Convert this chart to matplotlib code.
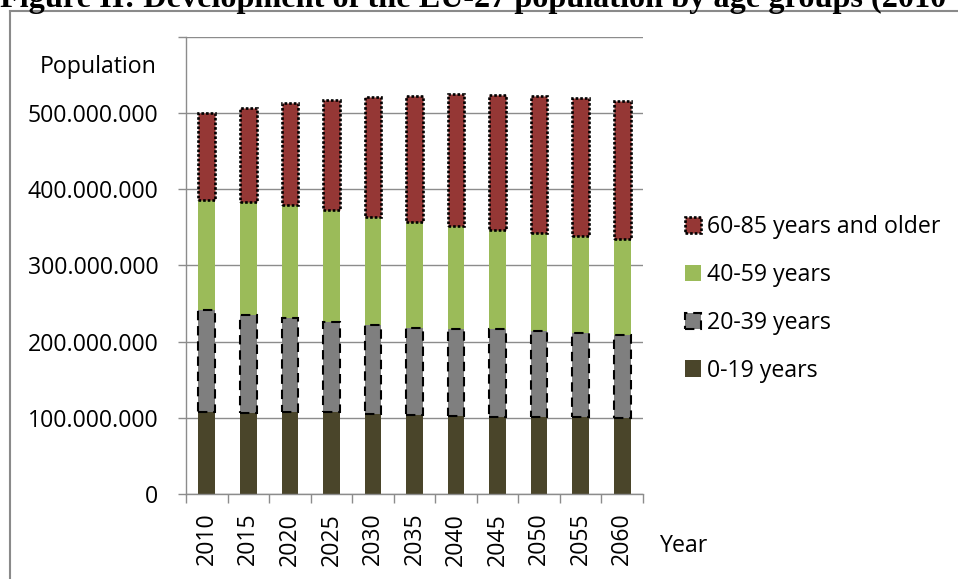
import matplotlib
matplotlib.use("Agg")
import matplotlib.pyplot as plt
from matplotlib.lines import Line2D
from matplotlib.ticker import FuncFormatter, FixedLocator
import numpy as np

# EU-27 population by age group, millions
years = ["2010", "2015", "2020", "2025", "2030", "2035", "2040", "2045", "2050", "2055", "2060"]
age_0_19 = [107.5, 106.0, 107.5, 107.0, 105.0, 103.0, 102.0, 101.0, 100.5, 100.5, 99.5]
age_20_39 = [133.3, 129.0, 123.2, 119.3, 116.1, 115.0, 115.1, 115.3, 114.0, 110.9, 109.3]
age_40_59 = [145.2, 148.3, 148.3, 146.7, 142.9, 138.3, 133.9, 129.9, 127.3, 126.5, 125.6]
age_60_plus = [113.5, 123.7, 133.5, 144.0, 156.5, 166.2, 173.5, 177.5, 180.5, 181.8, 180.9]
series_labels = ["0-19 years", "20-39 years", "40-59 years", "60-85 years and older"]
y_ticks = [0, 100e6, 200e6, 300e6, 400e6, 500e6, 600e6]

W, H = 958, 579
fig = plt.figure(figsize=(W / 100, H / 100), dpi=100)
plt.rcParams["font.family"] = ["Open Sans", "DejaVu Sans"]
FS = 16.7
GRID = "#8c8c8c"

def fx(px):
    return px / W

def fy(py):
    return 1 - py / H

# plot area
left, right, top, bottom = 186, 643, 36.7, 494
ax = fig.add_axes([fx(left), fy(bottom), fx(right - left), (bottom - top) / H])

x = np.arange(len(years))
scale = 1e6
b1 = np.array(age_0_19) * scale
b2 = np.array(age_20_39) * scale
b3 = np.array(age_40_59) * scale
b4 = np.array(age_60_plus) * scale
width = 0.4

bars1 = ax.bar(x, b1, width, color="#4a452a", zorder=2, label=series_labels[0])
bars2 = ax.bar(x, b2, width, bottom=b1, color="#7f7f7f", edgecolor="black",
               linewidth=1.5, linestyle=(0, (4.5, 2.8)), zorder=4, label=series_labels[1])
bars3 = ax.bar(x, b3, width, bottom=b1 + b2, color="#9bbb59", zorder=2, label=series_labels[2])
bars4 = ax.bar(x, b4, width, bottom=b1 + b2 + b3, color="#953735", edgecolor="black",
               linewidth=1.9, linestyle=(0, (1, 0.75)), zorder=4, label=series_labels[3])

ax.set_xlim(-0.5, len(years) - 0.5)
ax.set_ylim(0, 600e6)

# y axis
ax.yaxis.set_major_locator(FixedLocator(y_ticks))
ax.yaxis.set_major_formatter(FuncFormatter(
    lambda v, p: "" if v >= 600e6 else f"{int(round(v)):,}".replace(",", ".")))
ax.tick_params(axis="y", direction="out", length=5.8, width=1.0, color=GRID,
               labelsize=FS, pad=14, labelcolor="black")
ax.yaxis.grid(True, color=GRID, linewidth=1.0, zorder=0)
ax.set_axisbelow(True)

# x axis: labels at categories, ticks between categories
ax.set_xticks(x)
ax.set_xticklabels(years, rotation=90)
ax.set_xticks(np.arange(-0.5, len(years)), minor=True)
ax.tick_params(axis="x", which="major", length=0, labelsize=FS, pad=13.5)
ax.tick_params(axis="x", which="minor", direction="out", length=6.5, width=1.0, color=GRID)

for s in ("top", "right"):
    ax.spines[s].set_visible(False)
for s in ("left", "bottom"):
    ax.spines[s].set_color(GRID)
    ax.spines[s].set_linewidth(1.0)

# axis titles
fig.text(fx(157), fy(73), "Population", ha="right", va="baseline", fontsize=FS)
fig.text(fx(659), fy(552), "Year", ha="left", va="baseline", fontsize=FS)

# legend, top series first
leg = fig.legend(handles=[bars4, bars3, bars2, bars1],
                 labels=[series_labels[3], series_labels[2], series_labels[1], series_labels[0]],
                 loc="upper left", bbox_to_anchor=(fx(685), fy(215)),
                 frameon=False, fontsize=FS, handlelength=0.7, handleheight=0.7,
                 handletextpad=0.26, labelspacing=1.03, borderpad=0, borderaxespad=0)

# outer frame
fig.add_artist(Line2D([fx(9.5), fx(9.5)], [0, fy(11)], color="#8a8a8a", linewidth=1.5))
fig.add_artist(Line2D([fx(9.5), 1], [fy(11), fy(11)], color="#8a8a8a", linewidth=1.5))

# figure title (runs past the top edge)
fig.text(0, fy(7), "Figure II: Development of the EU-27 population by age groups (2010",
         ha="left", va="baseline", fontsize=23.2, fontweight="bold",
         family=["Liberation Serif", "DejaVu Serif"])

fig.savefig("out.png", dpi=100)
